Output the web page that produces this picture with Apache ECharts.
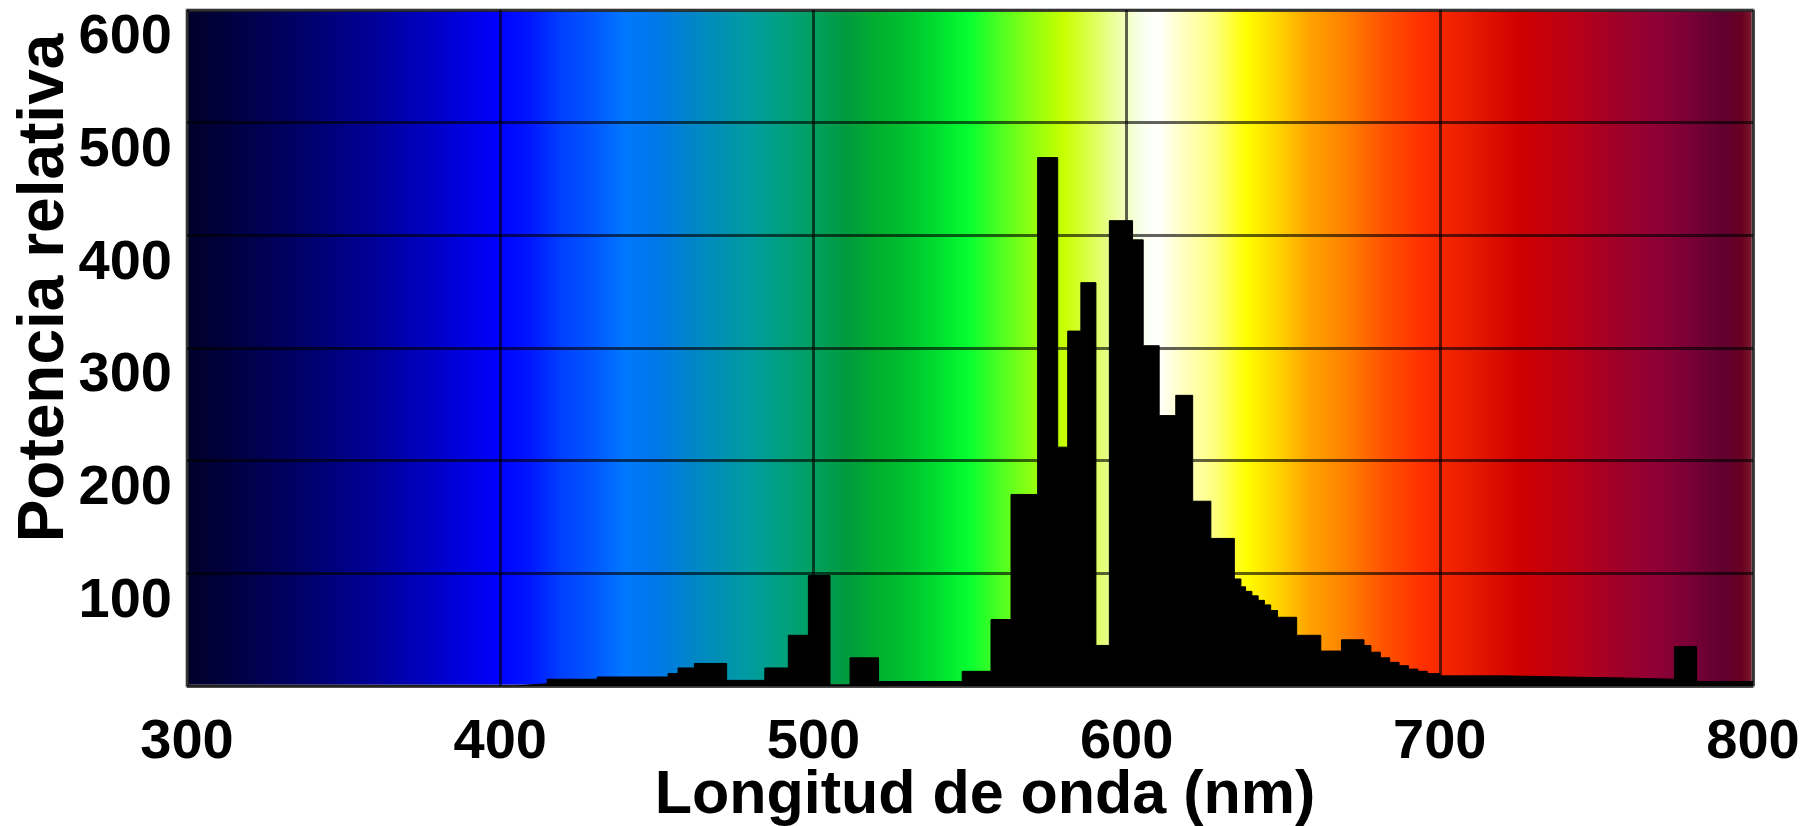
<!DOCTYPE html>
<html>
<head>
<meta charset="utf-8">
<script src="https://cdn.jsdelivr.net/npm/echarts@6/dist/echarts.min.js"></script>
<style>
html,body{margin:0;padding:0;background:#fff;}
#chart{width:1811px;height:826px;}
</style>
</head>
<body>
<div id="chart"></div>
<script>
// ---- data ----
const wavelengths = [300, 405, 410, 415, 431, 453.6, 456.8, 462, 472.3, 484.5, 492, 498.4, 505.3, 511.7, 520.8, 547.5, 556.7, 563.1, 571.6, 578, 581.2, 585.4, 590.2, 594.5, 601.9, 605.3, 610.4, 615.7, 621.1, 626.9, 634.4, 636.5, 638, 640, 642, 644, 646, 648.2, 654.3, 662, 668.6, 675.8, 678, 681, 684, 687, 690, 693, 696, 700, 720, 740, 760, 774.9, 782, 800];
const power =       [0,   1,   2,   6,   8,   11,    16,    20,  5,     16,    45,  98,    1,     25,    4,     13,    59,    170,   469,   212, 315,   358,   36,    413,   396,   302,   240,   258,   164,   131,   95,    88,    84,  80,  76,  72,  67,  61,    45,    31,  41,    36,    30,  25,  21,  18,  15,  13,  11,  9,   8,   7,   6,   35,    4,   4];
const yTickLabels = ['', '100', '200', '300', '400', '500', '600'];
const xTickLabels = ['300', '400', '500', '600', '700', '800'];

// ---- spectrum background colours (style) ----
const specNm =     [300, 320, 340, 360, 380, 400, 410, 420, 430, 440, 450, 460, 470, 480, 490, 500, 510, 520, 530, 540, 550, 560, 570, 580, 590, 598, 604, 610, 618, 628, 638, 648, 658, 670, 682, 694, 706, 725, 743, 756, 768, 780, 790, 796, 800];
const specColor = ['#000028','#00004a','#00006e','#000098','#0000c8','#0000ff','#0018ff','#0040ff','#0058ff','#0078ff','#0078e8','#0084cc','#0090b4','#009ca0','#00a080','#00a060','#009a40','#00ae30','#00c230','#00e030','#08ff30','#50ff20','#90ff10','#c8ff00','#e0ff60','#f0ffb0','#f8ffe8','#ffffff','#ffffc0','#ffff80','#ffff00','#ffd400','#ffa400','#ff8000','#ff5200','#ff3000','#ec2000','#d00000','#b80018','#a00028','#900035','#780035','#600030','#680020','#802030'];

const stops = specNm.map((w, i) => ({offset: (w - 300) / 500, color: specColor[i]}));
const seriesData = wavelengths.map((w, i) => [w, power[i]]);

const FONT = "'Liberation Sans', Arial, sans-serif";

const chart = echarts.init(document.getElementById('chart'), null, {renderer: 'canvas'});
chart.setOption({
  animation: false,
  backgroundColor: '#ffffff',
  grid: {
    left: 187, right: 58, top: 10, bottom: 140,
    containLabel: false,
    outerBoundsMode: 'none',
    show: true,
    backgroundColor: new echarts.graphic.LinearGradient(0, 0, 1, 0, stops),
    borderColor: '#8a8a8a',
    borderWidth: 3
  },
  xAxis: {
    type: 'value',
    min: 300, max: 800, interval: 100,
    name: 'Longitud de onda (nm)',
    nameLocation: 'middle',
    nameGap: 80,
    nameMoveOverlap: false,
    nameTextStyle: {fontFamily: FONT, fontWeight: 'bold', fontSize: 61, color: '#000', padding: [0, 0, 0, 30]},
    axisLine: {show: false},
    axisTick: {show: false},
    axisLabel: {
      fontFamily: FONT, fontWeight: 'bold', fontSize: 56, color: '#000', margin: 29,
      formatter: (v) => xTickLabels[Math.round((v - 300) / 100)]
    },
    splitLine: {show: true, lineStyle: {color: 'rgba(0,0,0,0.62)', width: 3}}
  },
  yAxis: {
    type: 'value',
    min: 0, max: 600, interval: 100,
    name: 'Potencia relativa',
    nameLocation: 'middle',
    nameRotate: 90,
    nameGap: 110,
    nameMoveOverlap: false,
    nameTextStyle: {fontFamily: FONT, fontWeight: 'bold', fontSize: 64, color: '#000', padding: [0, 0, 0, 120]},
    axisLine: {show: false},
    axisTick: {show: false},
    axisLabel: {
      fontFamily: FONT, fontWeight: 'bold', fontSize: 56, color: '#000', margin: 15,
      verticalAlign: 'top',
      lineHeight: 56,
      formatter: (v) => yTickLabels[Math.round(v / 100)]
    },
    splitLine: {show: true, lineStyle: {color: 'rgba(0,0,0,0.62)', width: 3}}
  },
  series: [{
    type: 'line',
    step: 'end',
    symbol: 'none',
    data: seriesData,
    lineStyle: {color: '#000', width: 1},
    areaStyle: {color: '#000', opacity: 1},
    z: 3
  }]
});
</script>
</body>
</html>
